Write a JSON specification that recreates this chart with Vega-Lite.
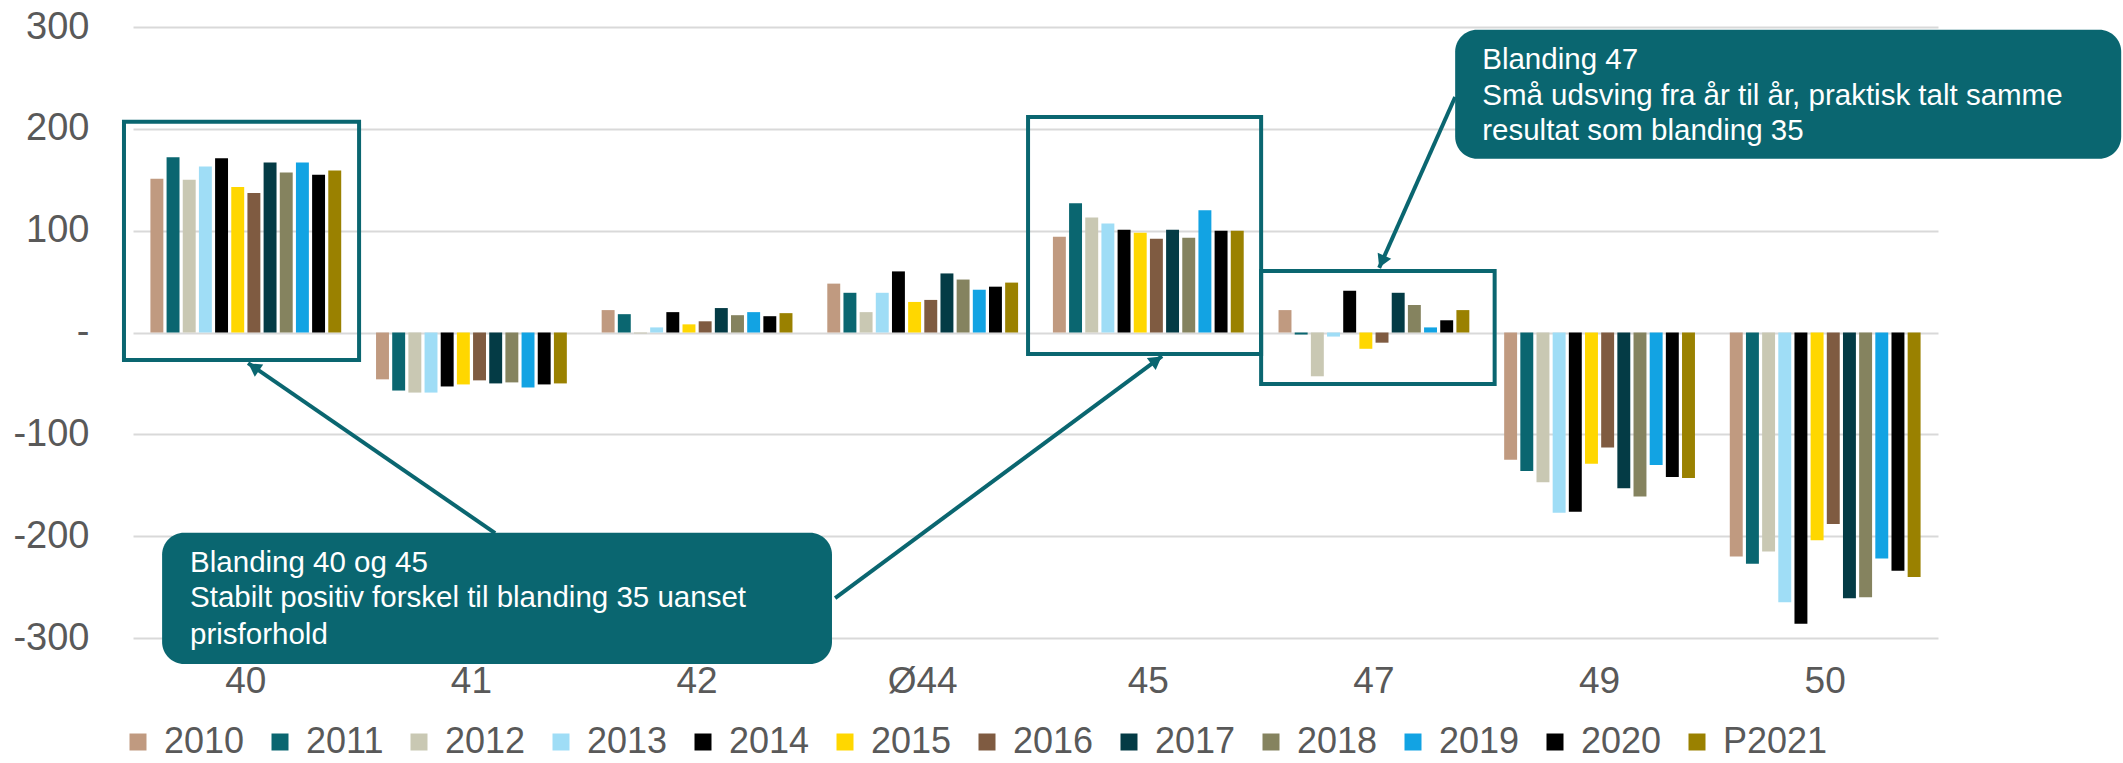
{
  "$schema": "https://vega.github.io/schema/vega-lite/v6.json",
  "width": 1805,
  "height": 611,
  "autosize": {"type": "none"},
  "padding": {"left": 133, "top": 27, "right": 185, "bottom": 125},
  "config": {"view": {"stroke": null}, "font": "Liberation Sans"},
  "datasets": {
    "bars": [
      {"blanding": "40", "year": "2010", "value": 151}, {"blanding": "40", "year": "2011", "value": 172}, {"blanding": "40", "year": "2012", "value": 150}, {"blanding": "40", "year": "2013", "value": 163}, {"blanding": "40", "year": "2014", "value": 171}, {"blanding": "40", "year": "2015", "value": 143}, {"blanding": "40", "year": "2016", "value": 137}, {"blanding": "40", "year": "2017", "value": 167}, {"blanding": "40", "year": "2018", "value": 157}, {"blanding": "40", "year": "2019", "value": 167}, {"blanding": "40", "year": "2020", "value": 155}, {"blanding": "40", "year": "P2021", "value": 159},
      {"blanding": "41", "year": "2010", "value": -46}, {"blanding": "41", "year": "2011", "value": -57}, {"blanding": "41", "year": "2012", "value": -59}, {"blanding": "41", "year": "2013", "value": -59}, {"blanding": "41", "year": "2014", "value": -53}, {"blanding": "41", "year": "2015", "value": -51}, {"blanding": "41", "year": "2016", "value": -47}, {"blanding": "41", "year": "2017", "value": -50}, {"blanding": "41", "year": "2018", "value": -49}, {"blanding": "41", "year": "2019", "value": -54}, {"blanding": "41", "year": "2020", "value": -51}, {"blanding": "41", "year": "P2021", "value": -50},
      {"blanding": "42", "year": "2010", "value": 22}, {"blanding": "42", "year": "2011", "value": 18}, {"blanding": "42", "year": "2012", "value": -1}, {"blanding": "42", "year": "2013", "value": 5}, {"blanding": "42", "year": "2014", "value": 20}, {"blanding": "42", "year": "2015", "value": 8}, {"blanding": "42", "year": "2016", "value": 11}, {"blanding": "42", "year": "2017", "value": 24}, {"blanding": "42", "year": "2018", "value": 17}, {"blanding": "42", "year": "2019", "value": 20}, {"blanding": "42", "year": "2020", "value": 16}, {"blanding": "42", "year": "P2021", "value": 19},
      {"blanding": "Ø44", "year": "2010", "value": 48}, {"blanding": "Ø44", "year": "2011", "value": 39}, {"blanding": "Ø44", "year": "2012", "value": 20}, {"blanding": "Ø44", "year": "2013", "value": 39}, {"blanding": "Ø44", "year": "2014", "value": 60}, {"blanding": "Ø44", "year": "2015", "value": 30}, {"blanding": "Ø44", "year": "2016", "value": 32}, {"blanding": "Ø44", "year": "2017", "value": 58}, {"blanding": "Ø44", "year": "2018", "value": 52}, {"blanding": "Ø44", "year": "2019", "value": 42}, {"blanding": "Ø44", "year": "2020", "value": 45}, {"blanding": "Ø44", "year": "P2021", "value": 49},
      {"blanding": "45", "year": "2010", "value": 94}, {"blanding": "45", "year": "2011", "value": 127}, {"blanding": "45", "year": "2012", "value": 113}, {"blanding": "45", "year": "2013", "value": 107}, {"blanding": "45", "year": "2014", "value": 101}, {"blanding": "45", "year": "2015", "value": 98}, {"blanding": "45", "year": "2016", "value": 92}, {"blanding": "45", "year": "2017", "value": 101}, {"blanding": "45", "year": "2018", "value": 93}, {"blanding": "45", "year": "2019", "value": 120}, {"blanding": "45", "year": "2020", "value": 100}, {"blanding": "45", "year": "P2021", "value": 100},
      {"blanding": "47", "year": "2010", "value": 22}, {"blanding": "47", "year": "2011", "value": -2}, {"blanding": "47", "year": "2012", "value": -43}, {"blanding": "47", "year": "2013", "value": -4}, {"blanding": "47", "year": "2014", "value": 41}, {"blanding": "47", "year": "2015", "value": -16}, {"blanding": "47", "year": "2016", "value": -10}, {"blanding": "47", "year": "2017", "value": 39}, {"blanding": "47", "year": "2018", "value": 27}, {"blanding": "47", "year": "2019", "value": 5}, {"blanding": "47", "year": "2020", "value": 12}, {"blanding": "47", "year": "P2021", "value": 22},
      {"blanding": "49", "year": "2010", "value": -125}, {"blanding": "49", "year": "2011", "value": -136}, {"blanding": "49", "year": "2012", "value": -147}, {"blanding": "49", "year": "2013", "value": -177}, {"blanding": "49", "year": "2014", "value": -176}, {"blanding": "49", "year": "2015", "value": -129}, {"blanding": "49", "year": "2016", "value": -113}, {"blanding": "49", "year": "2017", "value": -153}, {"blanding": "49", "year": "2018", "value": -161}, {"blanding": "49", "year": "2019", "value": -130}, {"blanding": "49", "year": "2020", "value": -142}, {"blanding": "49", "year": "P2021", "value": -143},
      {"blanding": "50", "year": "2010", "value": -220}, {"blanding": "50", "year": "2011", "value": -227}, {"blanding": "50", "year": "2012", "value": -215}, {"blanding": "50", "year": "2013", "value": -265}, {"blanding": "50", "year": "2014", "value": -286}, {"blanding": "50", "year": "2015", "value": -204}, {"blanding": "50", "year": "2016", "value": -188}, {"blanding": "50", "year": "2017", "value": -261}, {"blanding": "50", "year": "2018", "value": -260}, {"blanding": "50", "year": "2019", "value": -222}, {"blanding": "50", "year": "2020", "value": -234}, {"blanding": "50", "year": "P2021", "value": -240}
    ],
    "boxes": [
      {"x1": -0.04, "x2": 1.002, "y1": 207, "y2": -27},
      {"x1": 3.967, "x2": 5.0, "y1": 211.7, "y2": -21.1},
      {"x1": 5.0, "x2": 6.035, "y1": 60.4, "y2": -50.6}
    ],
    "callouts": [
      {"x1": 0.129, "x2": 3.098, "y1": -196.7, "y2": -325.6},
      {"x1": 5.86, "x2": 8.812, "y1": 297.2, "y2": 170.7}
    ],
    "arrows": [
      {"x1": 1.605, "y1": -197, "x2": 0.51, "y2": -30},
      {"x1": 3.112, "y1": -260.8, "x2": 4.561, "y2": -23.1},
      {"x1": 5.86, "y1": 231.3, "x2": 5.523, "y2": 63.4}
    ],
    "heads": [
      {"x": 0.535, "y": -33.9, "angle": 304.5},
      {"x": 4.536, "y": -27.2, "angle": 53.5},
      {"x": 5.535, "y": 69.6, "angle": 204}
    ],
    "texts": [
      {"x": 0.253, "y": -226, "text": "Blanding 40 og 45"},
      {"x": 0.253, "y": -260.3, "text": "Stabilt positiv forskel til blanding 35 uanset"},
      {"x": 0.253, "y": -296.7, "text": "prisforhold"},
      {"x": 5.98, "y": 267.7, "text": "Blanding 47"},
      {"x": 5.98, "y": 232.6, "text": "Små udsving fra år til år, praktisk talt samme"},
      {"x": 5.98, "y": 198.2, "text": "resultat som blanding 35"}
    ]
  },
  "layer": [
    {
      "data": {"name": "bars"},
      "mark": {"type": "bar"},
      "encoding": {
        "x": {
          "field": "blanding", "type": "nominal",
          "sort": ["40", "41", "42", "Ø44", "45", "47", "49", "50"],
          "scale": {"paddingInner": 0.14, "paddingOuter": 0.07},
          "axis": {"title": null, "labelFontSize": 37, "labelColor": "#595959", "labelPadding": 25, "ticks": false, "domain": false, "labelAngle": 0}
        },
        "xOffset": {
          "field": "year", "type": "nominal",
          "sort": ["2010", "2011", "2012", "2013", "2014", "2015", "2016", "2017", "2018", "2019", "2020", "P2021"],
          "scale": {"paddingInner": 0.2, "paddingOuter": 0.1}
        },
        "y": {
          "field": "value", "type": "quantitative",
          "scale": {"domain": [-300, 300], "nice": false},
          "axis": {
            "title": null,
            "values": [-300, -200, -100, 0, 100, 200, 300],
            "labelExpr": "datum.value === 0 ? '-\u00a0\u00a0' : '' + datum.value",
            "labelFontSize": 38, "labelColor": "#595959", "labelPadding": 44,
            "ticks": false, "domain": false, "gridColor": "#D9D9D9", "gridWidth": 2
          }
        },
        "color": {
          "field": "year", "type": "nominal",
          "scale": {
            "domain": ["2010", "2011", "2012", "2013", "2014", "2015", "2016", "2017", "2018", "2019", "2020", "P2021"],
            "range": ["#C09A80", "#0A6670", "#C9C8B3", "#9FDDF6", "#000000", "#FFD700", "#7F5B41", "#043B45", "#85835F", "#12A3E3", "#000000", "#9A8100"]
          },
          "legend": {
            "title": null, "orient": "none", "legendX": -13, "legendY": 697,
            "direction": "horizontal", "columns": 12,
            "symbolType": "square", "symbolSize": 289, "symbolStrokeWidth": 0,
            "labelFontSize": 36, "labelColor": "#595959", "labelOffset": 8,
            "columnPadding": 17, "labelLimit": 300
          }
        }
      }
    },
    {
      "layer": [
        {
          "data": {"name": "arrows"},
          "mark": {"type": "rule", "stroke": "#0A6670", "strokeWidth": 4},
          "encoding": {
            "x": {"field": "x1", "type": "quantitative", "scale": {"domain": [0, 8], "nice": false, "zero": false}, "axis": null},
            "x2": {"field": "x2"},
            "y": {"field": "y1", "type": "quantitative", "scale": {"domain": [-300, 300], "nice": false}, "axis": null},
            "y2": {"field": "y2"}
          }
        },
        {
          "data": {"name": "heads"},
          "mark": {"type": "point", "shape": "triangle-up", "filled": true, "size": 220, "color": "#0A6670", "opacity": 1},
          "encoding": {
            "x": {"field": "x", "type": "quantitative", "scale": {"domain": [0, 8], "nice": false, "zero": false}, "axis": null},
            "y": {"field": "y", "type": "quantitative", "scale": {"domain": [-300, 300], "nice": false}, "axis": null},
            "angle": {"field": "angle", "type": "quantitative", "scale": null}
          }
        },
        {
          "data": {"name": "boxes"},
          "mark": {"type": "rect", "fill": "white", "fillOpacity": 0, "stroke": "#0A6670", "strokeWidth": 4},
          "encoding": {
            "x": {"field": "x1", "type": "quantitative", "scale": {"domain": [0, 8], "nice": false, "zero": false}, "axis": null},
            "x2": {"field": "x2"},
            "y": {"field": "y1", "type": "quantitative", "scale": {"domain": [-300, 300], "nice": false}, "axis": null},
            "y2": {"field": "y2"}
          }
        },
        {
          "data": {"name": "callouts"},
          "mark": {"type": "rect", "fill": "#0A6670", "cornerRadius": 22},
          "encoding": {
            "x": {"field": "x1", "type": "quantitative", "scale": {"domain": [0, 8], "nice": false, "zero": false}, "axis": null},
            "x2": {"field": "x2"},
            "y": {"field": "y1", "type": "quantitative", "scale": {"domain": [-300, 300], "nice": false}, "axis": null},
            "y2": {"field": "y2"}
          }
        },
        {
          "data": {"name": "texts"},
          "mark": {"type": "text", "align": "left", "baseline": "middle", "fontSize": 29.5, "color": "white"},
          "encoding": {
            "x": {"field": "x", "type": "quantitative", "scale": {"domain": [0, 8], "nice": false, "zero": false}, "axis": null},
            "y": {"field": "y", "type": "quantitative", "scale": {"domain": [-300, 300], "nice": false}, "axis": null},
            "text": {"field": "text"}
          }
        }
      ]
    }
  ],
  "resolve": {"scale": {"x": "independent", "y": "independent"}, "axis": {"x": "independent", "y": "independent"}}
}
